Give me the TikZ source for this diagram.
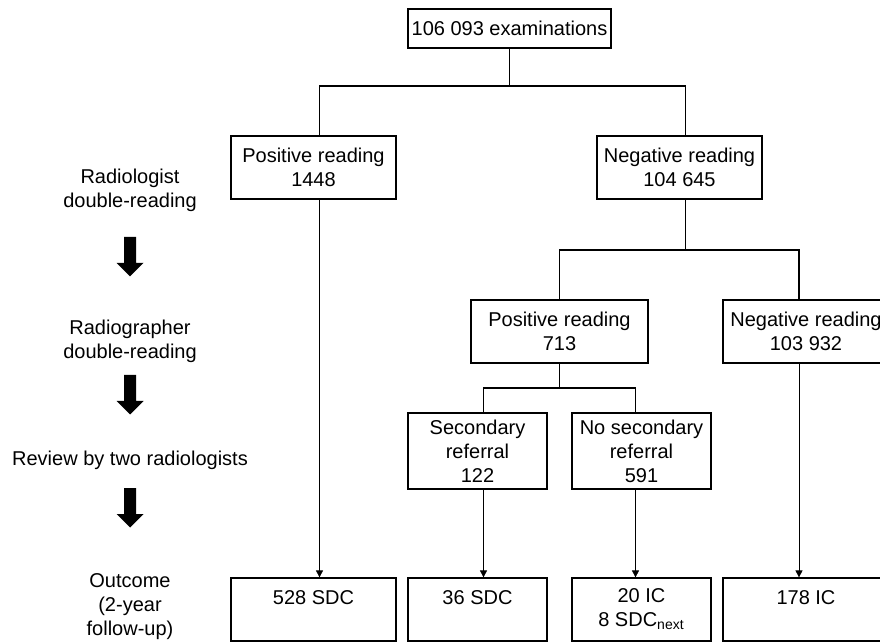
\documentclass[tikz,border=0pt]{standalone}
\usepackage{fontspec}
\setmainfont{Liberation Sans}
\usetikzlibrary{arrows.meta}

\begin{document}
\begin{tikzpicture}[x=0.5pt, y=-0.5pt,
        box/.style={draw, line width=0.6pt, align=center, inner sep=0pt, minimum height=31.5pt},
        tree/.style={line width=0.6pt},
        flow/.style={line width=0.35pt, -{Triangle[length=3.5pt, width=3.5pt]}},
        stage/.style={align=center}]
    \useasboundingbox (0,0) rectangle (880,642);
    % boxes of the tree
    \node[box, minimum width=101.5pt, minimum height=19.5pt] (exam) at (509.5,28.5) {106 093 examinations};
    \node[box, minimum width=82.5pt] (pos1) at (313.5,167.5) {Positive reading\\1448};
    \node[box, minimum width=82.5pt] (neg1) at (679.5,167.5) {Negative reading\\104 645};
    \node[box, minimum width=88.5pt] (pos2) at (559.5,331.5) {Positive reading\\713};
    \node[box, minimum width=83pt] (neg2) at (806,331.5) {Negative reading\\103 932};
    \node[box, minimum width=69.5pt, minimum height=38pt] (sec) at (477.5,451) {Secondary\\referral\\122};
    \node[box, minimum width=69.5pt, minimum height=38pt] (nosec) at (641.5,451) {No secondary\\referral\\591};
    \node[box, minimum width=82.5pt] (out1) at (313.5,609.5) {528 SDC\\\mbox{}};
    \node[box, minimum width=69.5pt] (out2) at (477.5,609.5) {36 SDC\\\mbox{}};
    \node[box, minimum width=69.5pt] (out3) at (641.5,609.5) {20 IC\\8 SDC\textsubscript{next}};
    \node[box, minimum width=83pt] (out4) at (806,609.5) {178 IC\\\mbox{}};
    % stages on the left
    \node[stage] (lab1) at (130,190) {Radiologist\\double-reading};
    \node[stage] (lab2) at (130,341) {Radiographer\\double-reading};
    \node[stage] (lab3) at (130,460) {Review by two radiologists};
    \node[stage] (lab4) at (130,607) {Outcome\\(2-year\\follow-up)};
    \foreach \yy in {237,375,488}
        \fill (130,\yy) ++(-6,0) -- ++(12,0) -- ++(0,26) -- ++(7.5,0) -- ++(-13.5,13.5) -- ++(-13.5,-13.5) -- ++(7.5,0) -- cycle;
    % tree lines
    \coordinate (j1) at (509,86);
    \coordinate (j2) at (0,250);
    \coordinate (j3) at (0,388);
    \draw[tree] (exam.south) -- (exam.south |- j1);
    \draw[tree] ([xshift=3pt]pos1.north) |- ([xshift=3pt]neg1.north |- j1) -- ([xshift=3pt]neg1.north);
    \draw[tree] ([xshift=3pt]neg1.south) -- ([xshift=3pt]neg1.south |- j2);
    \draw[tree] (pos2.north) |- ([xshift=-3.5pt]neg2.north |- j2) -- ([xshift=-3.5pt]neg2.north);
    \draw[tree] (pos2.south) -- (pos2.south |- j3);
    \draw[tree] ([xshift=3pt]sec.north) |- ([xshift=-3pt]nosec.north |- j3) -- ([xshift=-3pt]nosec.north);
    % arrows to the outcomes
    \draw[flow] ([xshift=3pt]pos1.south) -- ([xshift=3pt]pos1.south |- out1.north);
    \draw[flow] ([xshift=3pt]sec.south) -- ([xshift=3pt]sec.south |- out2.north);
    \draw[flow] ([xshift=-3pt]nosec.south) -- ([xshift=-3pt]nosec.south |- out3.north);
    \draw[flow] ([xshift=-3.5pt]neg2.south) -- ([xshift=-3.5pt]neg2.south |- out4.north);
\end{tikzpicture}
\end{document}
